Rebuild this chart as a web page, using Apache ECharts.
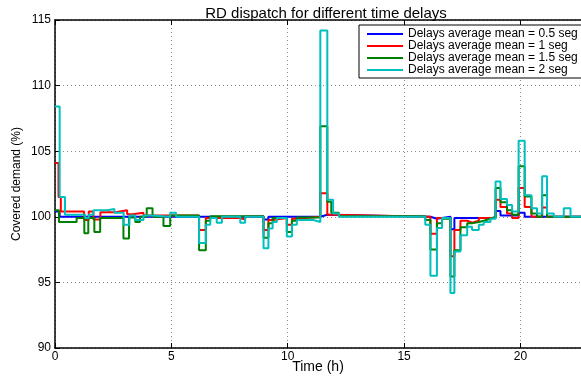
<!DOCTYPE html>
<html>
<head>
<meta charset="utf-8">
<script src="https://cdn.jsdelivr.net/npm/echarts@6/dist/echarts.min.js"></script>
<style>
  html, body { margin: 0; padding: 0; background: #fff; }
  #chart { width: 581px; height: 379px; }
</style>
</head>
<body>
<div id="chart"></div>
<script>
const seriesNames = [
  "Delays average mean = 0.5 seg",
  "Delays average mean = 1 seg",
  "Delays average mean = 1.5 seg",
  "Delays average mean = 2 seg",
];

const xTicks = [0, 5, 10, 15, 20];
const yTicks = [90, 95, 100, 105, 110, 115];

// stairs: each value holds until the next time
const blueTimes = [0, 0.2, 8.96, 9.17, 11.4, 11.7, 16.13, 16.41, 16.99, 17.16, 18.93, 19.14, 19.92, 20.18, 22.6];
const blueValues = [100.4, 100.0, 99.8, 100.0, 100.15, 100.0, 99.85, 100.0, 99.05, 99.9, 100.45, 100.1, 100.3, 100.0, 100.0];

const redTimes = [0, 0.15, 0.25, 1.25, 1.45, 1.65, 1.95, 2.6, 3.1, 3.35, 3.8,
  6.19, 6.48, 7.96, 8.17, 8.96, 9.17, 9.35, 9.96, 10.18, 10.39,
  11.4, 11.7, 11.95, 16.13, 16.41, 16.99, 17.16, 17.42, 17.71, 17.92,
  18.21, 18.93, 19.14, 19.42, 19.64, 19.92, 20.18, 20.47, 20.93, 21.14, 22.6];
const redValues = [104.1, 101.5, 100.4, 99.75, 100.4, 99.8, 100.35, 100.5, 100.2, 100.3, 100.1,
  99.0, 99.9, 99.8, 100.05, 99.0, 99.75, 99.9, 99.4, 99.85, 100.0,
  101.8, 100.15, 100.0, 98.7, 99.9, 97.0, 99.0, 99.7, 99.55, 99.7,
  99.9, 101.3, 100.75, 100.25, 99.9, 102.2, 100.75, 100.0, 100.7, 100.0, 100.0];

const greenTimes = [0, 0.17, 0.93, 1.26, 1.43, 1.69, 1.94, 2.94, 3.18, 3.45,
  3.65, 3.94, 4.19, 4.66, 4.95, 6.19, 6.48, 6.67, 8.96, 9.17,
  9.35, 9.96, 10.18, 10.39, 11.4, 11.7, 11.87, 12.2, 15.91, 16.13,
  16.41, 16.63, 16.99, 17.16, 17.42, 17.71, 17.92, 18.21, 18.42, 18.71,
  18.93, 19.14, 19.42, 19.64, 19.92, 20.18, 20.47, 20.71, 20.93, 21.14, 22.6];
const greenValues = [100.5, 99.6, 99.9, 98.75, 99.9, 98.85, 99.9, 98.35, 99.95, 99.6,
  100.0, 100.65, 100.0, 99.3, 100.1, 97.45, 99.7, 100.05, 98.4, 99.5,
  99.9, 98.85, 99.7, 99.95, 106.9, 101.15, 100.3, 100.05, 99.75, 97.5,
  99.5, 99.85, 95.45, 97.45, 99.2, 99.5, 99.6, 99.7, 99.85, 100.0,
  102.2, 101.1, 100.5, 100.15, 103.85, 101.55, 100.25, 100.0, 101.65, 100.0, 100.0];

const cyanTimes = [0, 0.2, 0.43, 1.3, 1.45, 1.65, 2.25, 2.55, 2.95, 3.2,
  3.45, 3.8, 4.2, 4.95, 5.2, 6.19, 6.48, 6.67, 6.95, 7.17,
  7.96, 8.17, 8.96, 9.17, 9.35, 9.53, 9.96, 10.18, 10.39, 11.1,
  11.4, 11.7, 11.95, 12.2, 15.91, 16.13, 16.41, 16.63, 16.99, 17.16,
  17.42, 17.71, 17.92, 18.21, 18.42, 18.71, 18.93, 19.14, 19.42, 19.64,
  19.92, 20.18, 20.47, 20.71, 20.93, 21.14, 21.43, 21.86, 22.15, 22.6];
const cyanValues = [108.4, 101.5, 100.15, 99.9, 100.15, 100.5, 100.6, 100.3, 99.4, 100.1,
  99.75, 100.1, 100.0, 100.3, 100.0, 98.0, 99.4, 99.9, 99.55, 100.0,
  99.55, 100.0, 97.6, 99.1, 99.6, 99.9, 98.5, 99.4, 99.75, 99.6,
  114.2, 101.3, 100.25, 100.0, 99.4, 95.5, 99.15, 99.9, 94.2, 97.35,
  98.6, 99.25, 99.0, 99.4, 99.6, 99.85, 102.7, 101.35, 100.9, 100.4,
  105.8, 101.65, 100.65, 100.25, 103.1, 100.25, 100.0, 100.65, 100.0, 100.0];

const pairs = (times, values) => times.map((t, i) => [t, values[i]]);

const font = "Liberation Sans, Arial, Helvetica, sans-serif";
const chart = echarts.init(document.getElementById("chart"), null, { renderer: "canvas" });

const stairs = (name, color, times, values) => ({
  name,
  type: "line",
  step: "end",
  showSymbol: false,
  data: pairs(times, values),
  lineStyle: { color, width: 2 },
  itemStyle: { color },
});

const gridLine = { show: true, lineStyle: { color: "#8c8c8c", type: [1, 3], width: 1 } };

chart.setOption({
  animation: false,
  textStyle: { fontFamily: font },
  title: {
    text: "RD dispatch for different time delays",
    left: 321,
    top: 1,
    textAlign: "center",
    textStyle: { fontSize: 15, fontWeight: "normal", color: "#000", fontFamily: font },
  },
  legend: {
    orient: "vertical",
    left: 359,
    top: 25,
    padding: [3, 4, 2, 8],
    itemGap: 0,
    itemWidth: 36,
    itemHeight: 2,
    icon: "rect",
    backgroundColor: "#fff",
    borderColor: "#000",
    borderWidth: 1,
    data: seriesNames,
    textStyle: { fontSize: 12, lineHeight: 12, color: "#000", fontFamily: font },
  },
  grid: { left: 55, right: 0, top: 20, bottom: 31, containLabel: false, outerBoundsMode: "none" },
  xAxis: [
    {
      type: "value",
      min: 0,
      max: 22.6,
      interval: 5,
      name: "Time (h)",
      nameLocation: "middle",
      nameGap: 12,
      nameMoveOverlap: false,
      nameTextStyle: { fontSize: 14, color: "#000", fontFamily: font },
      axisLine: { onZero: false, lineStyle: { color: "#000", width: 1.5 } },
      axisTick: { inside: true, length: 5, lineStyle: { color: "#000" } },
      axisLabel: {
        showMaxLabel: false,
        margin: 3,
        fontSize: 12,
        color: "#000",
        formatter: (v) => (xTicks.includes(v) ? String(v) : ""),
      },
      splitLine: gridLine,
    },
    {
      type: "value",
      position: "top",
      min: 0,
      max: 22.6,
      interval: 5,
      axisLine: { onZero: false, lineStyle: { color: "#000", width: 1.5 } },
      axisTick: { inside: true, length: 5, lineStyle: { color: "#000" } },
      axisLabel: { show: false },
      splitLine: { show: false },
    },
  ],
  yAxis: {
    type: "value",
    min: 90,
    max: 115,
    interval: 5,
    name: "Covered demand (%)",
    nameLocation: "middle",
    nameGap: 32,
    nameMoveOverlap: false,
    nameTextStyle: { fontSize: 12, color: "#000", fontFamily: font },
    axisLine: { show: true, lineStyle: { color: "#000", width: 1.5 } },
    axisTick: { show: true, inside: true, length: 5, lineStyle: { color: "#000" } },
    axisLabel: {
      margin: 4,
      fontSize: 12,
      color: "#000",
      formatter: (v) => (yTicks.includes(v) ? String(v) : ""),
    },
    splitLine: gridLine,
  },
  series: [
    stairs(seriesNames[0], "#0000ff", blueTimes, blueValues),
    stairs(seriesNames[1], "#ff0000", redTimes, redValues),
    stairs(seriesNames[2], "#008000", greenTimes, greenValues),
    stairs(seriesNames[3], "#00bfbf", cyanTimes, cyanValues),
  ],
});
</script>
</body>
</html>
